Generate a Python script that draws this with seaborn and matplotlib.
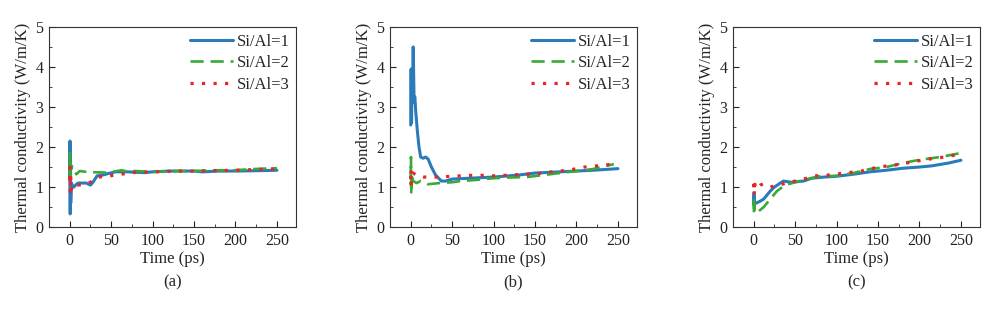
import numpy as np
import pandas as pd
import matplotlib
matplotlib.use("Agg")
import matplotlib.pyplot as plt
import seaborn as sns
from matplotlib.ticker import MultipleLocator

sns.set_theme(style="ticks")
plt.rcParams['font.family'] = ['Liberation Serif', 'DejaVu Serif']

# ---- data (time in ps, k in W/m/K) ----
# panel (a)
ta1 = [0, 0.3, 0.6, 0.9, 1.2, 2, 3, 5, 7, 10, 15, 20, 25, 28, 33, 40, 45, 55, 70, 90, 100, 120, 150, 160, 180, 200, 230, 250]
ka1 = [1.2, 2.15, 0.33, 1.9, 0.6, 1.1, 1.05, 1.0, 1.05, 1.1, 1.1, 1.1, 1.05, 1.12, 1.28, 1.30, 1.33, 1.38, 1.38, 1.36, 1.38, 1.40, 1.40, 1.38, 1.40, 1.40, 1.41, 1.42]
ta2 = [0, 0.3, 0.6, 1, 2, 3, 5, 8, 12, 20, 30, 45, 55, 62, 70, 80, 100, 130, 150, 170, 200, 220, 250]
ka2 = [1.3, 1.85, 1.2, 1.6, 1.45, 1.52, 1.45, 1.32, 1.40, 1.38, 1.37, 1.36, 1.39, 1.42, 1.39, 1.40, 1.38, 1.40, 1.40, 1.42, 1.42, 1.45, 1.47]
ta3 = [0, 0.3, 0.6, 1, 2, 3, 6, 10, 20, 28, 35, 45, 55, 65, 80, 100, 130, 160, 200, 240, 248]
ka3 = [1.2, 1.5, 0.85, 1.3, 0.95, 1.0, 1.1, 1.05, 1.08, 1.15, 1.25, 1.27, 1.30, 1.33, 1.37, 1.38, 1.40, 1.40, 1.42, 1.45, 1.46]

# panel (b)
tb1 = [0, 0.5, 1, 1.5, 2, 3, 4, 5, 6, 8, 10, 12, 15, 18, 21, 25, 30, 37, 42, 50, 70, 100, 130, 150, 180, 200, 220, 250]
kb1 = [2.55, 3.95, 2.6, 3.9, 3.1, 4.5, 3.2, 3.25, 2.9, 2.4, 2.0, 1.75, 1.72, 1.75, 1.70, 1.50, 1.30, 1.15, 1.15, 1.20, 1.22, 1.25, 1.30, 1.35, 1.38, 1.40, 1.42, 1.46]
tb2 = [0, 0.3, 0.6, 1, 3, 7, 12, 20, 35, 50, 60, 80, 100, 120, 140, 160, 180, 200, 220, 240, 245]
kb2 = [1.2, 1.75, 0.82, 1.3, 1.15, 1.10, 1.15, 1.07, 1.10, 1.12, 1.15, 1.18, 1.22, 1.24, 1.25, 1.30, 1.35, 1.40, 1.45, 1.55, 1.57]
tb3 = [0, 0.3, 0.6, 1, 3, 8, 15, 30, 50, 80, 100, 120, 150, 170, 190, 210, 235, 245]
kb3 = [1.2, 1.45, 0.95, 1.3, 1.35, 1.28, 1.25, 1.25, 1.27, 1.30, 1.28, 1.30, 1.33, 1.38, 1.42, 1.50, 1.55, 1.58]

# panel (c)
tc1 = [0, 0.3, 0.6, 1, 3, 8, 12, 20, 25, 32, 36, 45, 60, 70, 85, 100, 120, 140, 160, 180, 200, 215, 235, 250]
kc1 = [0.85, 0.55, 0.8, 0.58, 0.60, 0.65, 0.70, 0.90, 1.00, 1.10, 1.15, 1.12, 1.15, 1.22, 1.25, 1.27, 1.32, 1.38, 1.42, 1.47, 1.50, 1.53, 1.60, 1.67]
tc2 = [0, 0.3, 0.6, 1, 5, 12, 20, 28, 38, 50, 65, 80, 100, 120, 140, 160, 180, 200, 225, 250]
kc2 = [0.7, 0.33, 0.6, 0.36, 0.38, 0.50, 0.70, 0.90, 1.05, 1.12, 1.20, 1.27, 1.28, 1.35, 1.45, 1.50, 1.60, 1.68, 1.75, 1.85]
tc3 = [0, 0.3, 0.6, 1, 3, 8, 12, 20, 30, 40, 50, 60, 75, 90, 110, 130, 150, 170, 190, 205, 230, 248]
kc3 = [1.0, 1.18, 0.8, 1.1, 0.95, 1.05, 1.08, 1.00, 1.05, 1.10, 1.15, 1.20, 1.28, 1.30, 1.35, 1.40, 1.50, 1.55, 1.62, 1.68, 1.75, 1.82]

labels = ["Si/Al=1", "Si/Al=2", "Si/Al=3"]
panels = [
    ("(a)", [(ta1, ka1), (ta2, ka2), (ta3, ka3)]),
    ("(b)", [(tb1, kb1), (tb2, kb2), (tb3, kb3)]),
    ("(c)", [(tc1, kc1), (tc2, kc2), (tc3, kc3)]),
]

palette = {"Si/Al=1": "#2b7bba", "Si/Al=2": "#3aa935", "Si/Al=3": "#e3262a"}
dashes = {"Si/Al=1": None, "Si/Al=2": (5, 2.6), "Si/Al=3": (1, 2.6)}
widths = {"Si/Al=1": 2.2, "Si/Al=2": 1.9, "Si/Al=3": 2.3}

fig = plt.figure(figsize=(10, 3.09), dpi=100)
lefts = [0.049, 0.390, 0.733]

for left, (tag, series) in zip(lefts, panels):
    ax = fig.add_axes([left, 0.265, 0.247, 0.648])
    for lab, (t, k) in zip(labels, series):
        df = pd.DataFrame({"Time": t, "k": k})
        sns.lineplot(data=df, x="Time", y="k", color=palette[lab], ax=ax,
                     estimator=None, lw=widths[lab], label=lab)
        if dashes[lab]:
            ax.lines[-1].set_dashes(dashes[lab])

    ax.set_xlim(-25, 273)
    ax.set_ylim(0, 5)
    ax.xaxis.set_major_locator(MultipleLocator(50))
    ax.xaxis.set_minor_locator(MultipleLocator(25))
    ax.yaxis.set_major_locator(MultipleLocator(1))
    ax.yaxis.set_minor_locator(MultipleLocator(0.5))
    ax.tick_params(which="both", direction="in", top=False, right=False,
                   labelsize=11.5, colors="#222222")
    ax.tick_params(which="major", length=4, width=0.8, pad=4)
    ax.tick_params(which="minor", length=2, width=0.6)
    for sp in ax.spines.values():
        sp.set_linewidth(0.8)
        sp.set_color("#333333")
    ax.set_xlabel("Time (ps)", fontsize=12, labelpad=2)
    ax.set_ylabel("Thermal conductivity (W/m/K)", fontsize=12, labelpad=3)
    ax.text(0.5, -0.275, tag, transform=ax.transAxes, ha="center", va="center", fontsize=12)
    ax.legend(frameon=False, loc="upper right", fontsize=12, handlelength=2.6,
              borderaxespad=0.05, borderpad=0.35, labelspacing=0.33, handletextpad=0.2)

fig.savefig("out.png", dpi=100)
